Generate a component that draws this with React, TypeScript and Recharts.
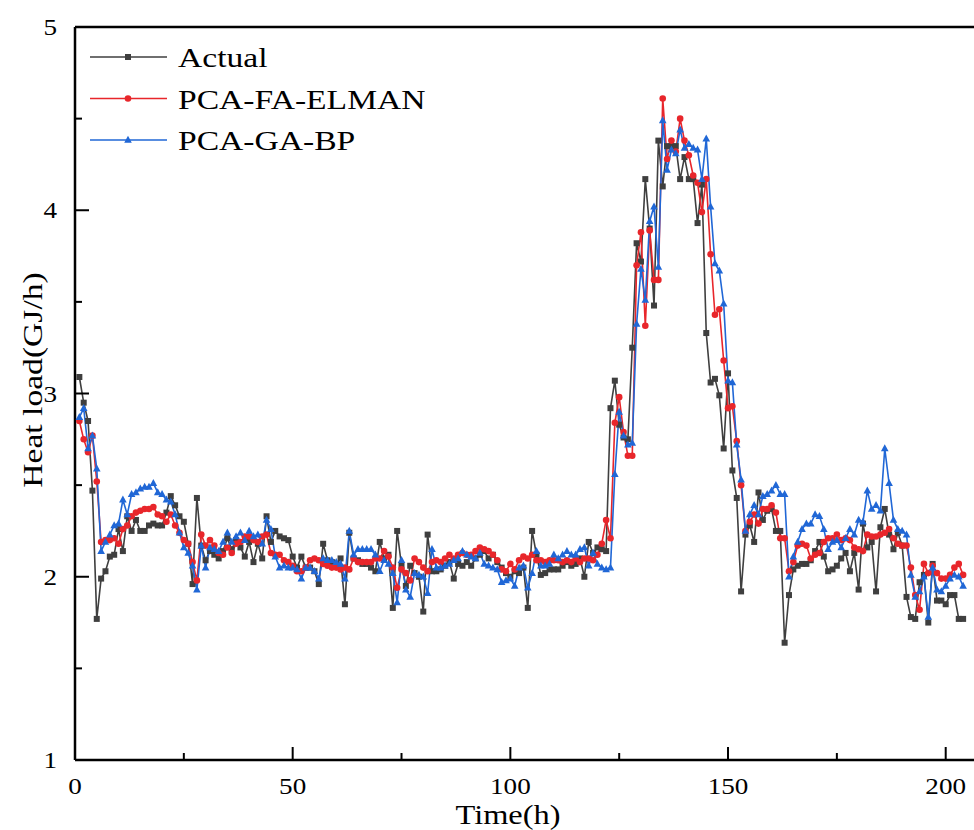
import React from "react";
import { LineChart, Line, XAxis, YAxis, ReferenceLine, Legend } from "recharts";

// Heat load (GJ/h), one value per hour starting at t = 1
const actual = [
  3.09, 2.95, 2.85, 2.47, 1.77, 1.99, 2.03, 2.11, 2.12, 2.26,
  2.14, 2.33, 2.25, 2.31, 2.25, 2.25, 2.28, 2.29, 2.28, 2.28,
  2.35, 2.44, 2.39, 2.33, 2.30, 2.18, 1.96, 2.43, 2.17, 2.09,
  2.14, 2.12, 2.10, 2.14, 2.21, 2.15, 2.20, 2.16, 2.11, 2.19,
  2.08, 2.18, 2.10, 2.33, 2.19, 2.25, 2.22, 2.21, 2.20, 2.11,
  2.05, 2.11, 2.05, 2.05, 2.03, 1.96, 2.18, 2.09, 2.08, 2.07,
  2.10, 1.85, 2.24, 2.10, 2.09, 2.07, 2.07, 2.05, 2.03, 2.19,
  2.10, 2.12, 1.83, 2.25, 2.06, 1.95, 2.06, 2.02, 2.00, 1.81,
  2.23, 2.03, 2.03, 2.04, 2.06, 2.08, 1.99, 2.07, 2.06, 2.08,
  2.06, 2.10, 2.12, 2.14, 2.10, 2.12, 2.08, 2.05, 2.02, 2.00,
  2.03, 2.02, 2.05, 1.83, 2.25, 2.12, 2.01, 2.02, 2.04, 2.04,
  2.04, 2.06, 2.08, 2.06, 2.07, 2.10, 2.00, 2.19, 2.13, 2.16,
  2.15, 2.14, 2.92, 3.07, 2.83, 2.76, 2.75, 3.25, 3.82, 3.72,
  4.17, 3.90, 3.48, 4.38, 4.13, 4.35, 4.35, 4.35, 4.17, 4.29,
  4.17, 4.17, 3.93, 4.14, 3.33, 3.06, 3.08, 2.99, 2.70, 3.11,
  2.58, 2.43, 1.92, 2.23, 2.28, 2.19, 2.46, 2.31, 2.36, 2.37,
  2.25, 2.25, 1.64, 1.90, 2.04, 2.06, 2.07, 2.07, 2.09, 2.14,
  2.19, 2.11, 2.03, 2.04, 2.06, 2.10, 2.13, 2.03, 2.13, 1.93,
  2.29, 2.16, 2.19, 1.92, 2.27, 2.37, 2.23, 2.15, 2.24, 2.17,
  1.89, 1.78, 1.77, 1.97, 2.01, 1.75, 2.07, 1.87, 1.87, 1.85,
  1.90, 1.90, 1.77, 1.77,
];

const faElman = [
  2.85, 2.75, 2.68, 2.77, 2.52, 2.19, 2.20, 2.20, 2.21, 2.18,
  2.26, 2.28, 2.33, 2.35, 2.36, 2.37, 2.37, 2.38, 2.34, 2.33,
  2.30, 2.34, 2.28, 2.24, 2.20, 2.18, 2.08, 1.98, 2.23, 2.17,
  2.20, 2.17, 2.13, 2.12, 2.16, 2.13, 2.18, 2.19, 2.22, 2.22,
  2.20, 2.19, 2.22, 2.23, 2.13, 2.12, 2.12, 2.09, 2.08, 2.06,
  2.03, 2.03, 2.05, 2.09, 2.10, 2.09, 2.07, 2.06, 2.05, 2.05,
  2.04, 2.05, 2.04, 2.10, 2.08, 2.08, 2.08, 2.08, 2.10, 2.10,
  2.14, 2.11, 2.05, 1.94, 2.04, 2.02, 1.98, 2.10, 2.08, 2.05,
  2.03, 2.08, 2.09, 2.08, 2.10, 2.12, 2.10, 2.12, 2.13, 2.12,
  2.12, 2.14, 2.16, 2.15, 2.14, 2.12, 2.09, 2.04, 2.03, 2.07,
  2.04, 2.09, 2.11, 2.10, 2.12, 2.09, 2.09, 2.08, 2.09, 2.09,
  2.09, 2.08, 2.09, 2.08, 2.10, 2.08, 2.10, 2.10, 2.09, 2.12,
  2.18, 2.31, 2.21, 2.84, 2.98, 2.79, 2.66, 2.66, 3.70, 3.88,
  3.37, 3.89, 3.62, 3.62, 4.61, 4.28, 4.38, 4.32, 4.50, 4.38,
  4.30, 4.19, 4.15, 3.99, 4.17, 3.76, 3.43, 3.46, 3.18, 2.92,
  2.93, 2.74, 2.50, 2.25, 2.30, 2.34, 2.29, 2.37, 2.37, 2.39,
  2.35, 2.21, 2.21, 2.03, 2.08, 2.17, 2.18, 2.17, 2.10, 2.12,
  2.13, 2.19, 2.21, 2.21, 2.23, 2.20, 2.21, 2.20, 2.16, 2.15,
  2.14, 2.23, 2.22, 2.22, 2.23, 2.24, 2.26, 2.21, 2.18, 2.17,
  2.17, 2.05, 1.90, 1.82, 2.07, 2.02, 2.06, 2.02, 1.99, 1.99,
  2.01, 2.05, 2.07, 2.01,
];

const gaBp = [
  2.87, 2.92, 2.70, 2.77, 2.59, 2.14, 2.19, 2.23, 2.28, 2.29,
  2.42, 2.34, 2.45, 2.46, 2.48, 2.49, 2.49, 2.51, 2.46, 2.45,
  2.42, 2.41, 2.34, 2.24, 2.16, 2.13, 2.06, 1.93, 2.17, 2.05,
  2.16, 2.15, 2.14, 2.19, 2.24, 2.19, 2.22, 2.24, 2.20, 2.25,
  2.22, 2.23, 2.18, 2.31, 2.26, 2.11, 2.05, 2.06, 2.05, 2.05,
  2.04, 1.99, 2.05, 2.05, 2.03, 1.99, 2.10, 2.09, 2.09, 2.08,
  2.07, 1.99, 2.25, 2.12, 2.15, 2.15, 2.15, 2.15, 2.12, 2.03,
  2.09, 2.07, 2.02, 1.86, 2.09, 1.93, 1.89, 2.02, 2.01, 2.00,
  1.91, 2.15, 2.05, 2.05, 2.06, 2.07, 2.09, 2.10, 2.14, 2.12,
  2.11, 2.10, 2.13, 2.07, 2.06, 2.05, 2.04, 1.97, 1.98, 1.99,
  1.95, 2.05, 2.06, 1.94, 2.02, 2.14, 2.06, 2.06, 2.07, 2.12,
  2.10, 2.12, 2.14, 2.12, 2.12, 2.15, 2.16, 2.06, 2.13, 2.07,
  2.05, 2.04, 2.05, 2.56, 2.90, 2.77, 2.72, 2.73, 3.38, 3.68,
  3.51, 3.94, 4.02, 3.69, 4.49, 4.22, 4.33, 4.31, 4.44, 4.34,
  4.36, 4.34, 4.33, 4.17, 4.39, 4.02, 3.71, 3.67, 3.49, 3.07,
  3.06, 2.72, 2.53, 2.25, 2.34, 2.39, 2.34, 2.44, 2.45, 2.47,
  2.50, 2.45, 2.45, 2.00, 2.11, 2.19, 2.26, 2.29, 2.29, 2.34,
  2.33, 2.26, 2.15, 2.19, 2.20, 2.16, 2.21, 2.26, 2.23, 2.31,
  2.30, 2.47, 2.37, 2.39, 2.36, 2.70, 2.51, 2.31, 2.26, 2.25,
  2.23, 2.01, 1.89, 1.92, 2.00, 1.78, 2.05, 1.93, 1.92, 1.95,
  1.99, 2.01, 2.00, 1.95,
];

const xTicks = [0, 25, 50, 75, 100, 125, 150, 175, 200];
const yTicks = [1, 1.5, 2, 2.5, 3, 3.5, 4, 4.5, 5];

const GRAY = "#3f3f3f";
const RED = "#e8262b";
const BLUE = "#2067d6";
const FONT = "'Liberation Serif', 'Times New Roman', serif";

const data = actual.map((v, i) => ({
  t: i + 1,
  actual: v,
  faElman: faElman[i],
  gaBp: gaBp[i],
}));

const series = [
  { key: "actual", name: "Actual", color: GRAY, shape: "square" },
  { key: "faElman", name: "PCA-FA-ELMAN", color: RED, shape: "circle" },
  { key: "gaBp", name: "PCA-GA-BP", color: BLUE, shape: "triangle" },
];

function Marker({ shape, cx, cy, color }: { shape: string; cx: number; cy: number; color: string }) {
  if (shape === "square") return <rect x={cx - 3} y={cy - 3} width={6} height={6} fill={color} />;
  if (shape === "circle") return <circle cx={cx} cy={cy} r={3.3} fill={color} />;
  return <path d={`M${cx},${cy - 4.2} L${cx + 3.8},${cy + 2.8} L${cx - 3.8},${cy + 2.8} Z`} fill={color} />;
}

const makeDot = (shape: string, color: string) => (p: any) => {
  if (p.cx == null || p.cy == null) return <g key={p.index} />;
  return (
    <g key={p.index}>
      <Marker shape={shape} cx={p.cx} cy={p.cy} color={color} />
    </g>
  );
};

function XTick({ x, y, payload }: any) {
  const major = payload.value % 50 === 0;
  return (
    <g>
      <line x1={x} x2={x} y1={y} y2={y - (major ? 13 : 7)} stroke="#000" strokeWidth={2} />
      {major && (
        <text transform={`translate(${x},${y + 34}) scale(1.18,1)`} textAnchor="middle" fontSize={23} fontFamily={FONT} fill="#000">
          {payload.value}
        </text>
      )}
    </g>
  );
}

function YTick({ x, y, payload }: any) {
  const major = Number.isInteger(payload.value);
  return (
    <g>
      <line x1={x} x2={x + (major ? 14 : 7)} y1={y} y2={y} stroke="#000" strokeWidth={2} />
      {major && (
        <text transform={`translate(${x - 18},${y + 8}) scale(1.18,1)`} textAnchor="end" fontSize={23} fontFamily={FONT} fill="#000">
          {payload.value}
        </text>
      )}
    </g>
  );
}

function LegendBox() {
  return (
    <svg width={480} height={170} style={{ display: "block" }}>
      {series.map((s, i) => {
        const y = 57 + i * 41.5;
        return (
          <g key={s.key}>
            <line x1={90} x2={167} y1={y} y2={y} stroke={s.color} strokeWidth={1.6} />
            <Marker shape={s.shape} cx={128} cy={y} color={s.color} />
            <text transform={`translate(178,${y + 10}) scale(1.2,1)`} fontSize={28} fontFamily={FONT} fill="#000">
              {s.name}
            </text>
          </g>
        );
      })}
    </svg>
  );
}

export default function App() {
  return (
    <div style={{ position: "absolute", left: 0, top: 0, width: 974, height: 830, background: "#fff" }}>
      <LineChart width={974} height={830} data={data} margin={{ top: 27, right: 0, bottom: 0, left: 0 }}>
        <XAxis
          dataKey="t"
          type="number"
          domain={[0, 206.5]}
          ticks={xTicks}
          allowDataOverflow
          height={70}
          tickSize={0}
          tickMargin={0}
          tickLine={false}
          axisLine={{ stroke: "#000", strokeWidth: 2.5 }}
          tick={<XTick />}
          interval={0}
          label={{
            content: () => (
              <text transform="translate(508,824) scale(1.2,1)" textAnchor="middle" fontSize={27} fontFamily={FONT} fill="#000">
                Time(h)
              </text>
            ),
          }}
        />
        <YAxis
          type="number"
          domain={[1, 5]}
          ticks={yTicks}
          width={75}
          tickSize={0}
          tickMargin={0}
          tickLine={false}
          axisLine={{ stroke: "#000", strokeWidth: 2.5 }}
          tick={<YTick />}
          interval={0}
          label={{
            content: () => (
              <text transform="translate(42,380) rotate(-90) scale(1.2,1)" textAnchor="middle" fontSize={28} fontFamily={FONT} fill="#000">
                Heat load(GJ/h)
              </text>
            ),
          }}
        />
        <ReferenceLine y={5} stroke="#000" strokeWidth={2.5} />
        {series.map((s) => (
          <Line
            key={s.key}
            dataKey={s.key}
            name={s.name}
            stroke={s.color}
            strokeWidth={1.6}
            dot={makeDot(s.shape, s.color)}
            activeDot={false}
            isAnimationActive={false}
          />
        ))}
        <Legend
          layout="horizontal"
          verticalAlign="middle"
          wrapperStyle={{ left: 0, top: 0, width: 480, height: 170 }}
          content={() => <LegendBox />}
        />
      </LineChart>
    </div>
  );
}
